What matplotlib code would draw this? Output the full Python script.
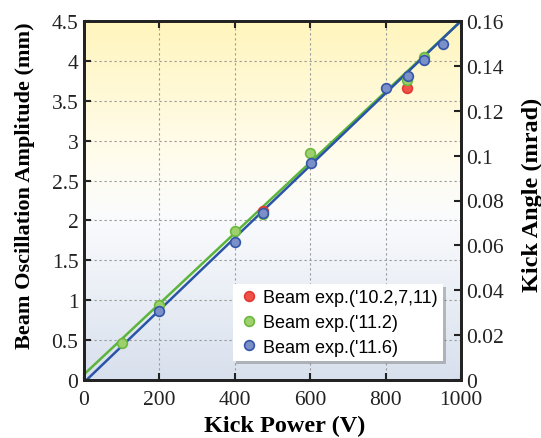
import numpy as np
import matplotlib
matplotlib.use("Agg")
import matplotlib.pyplot as plt
from matplotlib.colors import LinearSegmentedColormap
from matplotlib.ticker import MultipleLocator

# ---- data ----
red_x = [476, 858]
red_y = [2.12, 3.66]
green_x = [100, 200, 400, 476, 600, 858, 902]
green_y = [0.46, 0.94, 1.87, 2.08, 2.84, 3.76, 4.05]
blue_x = [200, 400, 476, 601, 801, 859, 902, 952]
blue_y = [0.87, 1.73, 2.09, 2.72, 3.66, 3.81, 4.01, 4.21]
# fit lines (value at 0 V, value at 1000 V)
fit_x = [0, 1000]
green_fit = [0.07, 4.50]
blue_fit = [-0.03, 4.50]
labels = ["Beam exp.('10.2,7,11)", "Beam exp.('11.2)", "Beam exp.('11.6)"]
left_ticks = ['0', '0.5', '1', '1.5', '2', '2.5', '3', '3.5', '4', '4.5']
right_ticks = ['0', '0.02', '0.04', '0.06', '0.08', '0.1', '0.12', '0.14', '0.16']

plt.rcParams['font.family'] = ['Liberation Serif', 'DejaVu Serif']
fig = plt.figure(figsize=(5.41, 4.39), dpi=100)
ax = fig.add_axes([84/541, 1-381/439, 377/541, 359/439])

# gradient background
cmap = LinearSegmentedColormap.from_list('bg', [(0.0, '#d8e0ed'), (0.45, '#fafbfd'),
                                                (0.6, '#fffdf0'), (1.0, '#fff5bd')])
grad = np.linspace(0, 1, 256).reshape(-1, 1)
ax.imshow(grad, aspect='auto', cmap=cmap, origin='lower',
          extent=[0, 1000, 0, 4.5], zorder=0)

ax.plot(fit_x, green_fit, color='#5cb53a', lw=1.8, zorder=3)
ax.plot(fit_x, blue_fit, color='#2a54a6', lw=1.8, zorder=3)

ms = 7
ax.plot(red_x, red_y, 'o', ms=ms, mfc='#f0524a', mec='#e03a30', mew=1.2, zorder=4, label=labels[0])
ax.plot(green_x, green_y, 'o', ms=ms, mfc='#9ed06e', mec='#6cb83f', mew=1.2, zorder=5, label=labels[1])
ax.plot(blue_x, blue_y, 'o', ms=ms, mfc='#7b8fc8', mec='#3456a8', mew=1.2, zorder=6, label=labels[2])

ax.set_xlim(0, 1000)
ax.set_ylim(0, 4.5)
ax.xaxis.set_major_locator(MultipleLocator(200))
ax.set_yticks(np.arange(0, 4.51, 0.5))
ax.set_yticklabels(left_ticks)
ax.grid(True, ls=(0, (2, 2.5)), color='#999999', lw=0.8, zorder=1)
ax.tick_params(direction='in', length=5, width=1.5, labelsize=15.5, top=True,
               right=False, pad=4, colors='#222222', labelcolor='#222222')
ax.tick_params(axis='x', pad=7.5)
for s in ax.spines.values():
    s.set_linewidth(2)
    s.set_color('#222222')
    s.set_zorder(10)
ax.set_xlabel('Kick Power (V)', fontsize=17.5, fontweight='bold')
ax.xaxis.set_label_coords(0.533, -0.097)
ax.set_ylabel('Beam Oscillation Amplitude (mm)', fontsize=16, fontweight='bold')
ax.yaxis.set_label_coords(-0.13, 0.545)

ax2 = ax.twinx()
ax2.set_ylim(0, 0.16)
ax2.set_yticks(np.arange(0, 0.161, 0.02))
ax2.set_yticklabels(right_ticks)
ax2.tick_params(direction='in', length=5, width=1.5, labelsize=15.5, pad=4,
                colors='#222222', labelcolor='#222222')
ax2.set_ylabel('Kick Angle (mrad)', fontsize=17.5, fontweight='bold')
ax2.yaxis.set_label_coords(1.16, 0.518)
for s in ax2.spines.values():
    s.set_linewidth(2)
    s.set_color('#222222')

leg = ax.legend(loc='lower right', bbox_to_anchor=(0.952, 0.053),
                prop={'family': 'Liberation Sans', 'size': 13},
                frameon=True, fancybox=False,
                shadow={'color': '#777777', 'alpha': 0.45},
                framealpha=1, edgecolor='white', handletextpad=0.15,
                handlelength=1.2, borderpad=0.3, labelspacing=0.42,
                borderaxespad=0)
leg.get_frame().set_linewidth(0)
leg.set_zorder(20)

fig.savefig('out.png', dpi=100)
